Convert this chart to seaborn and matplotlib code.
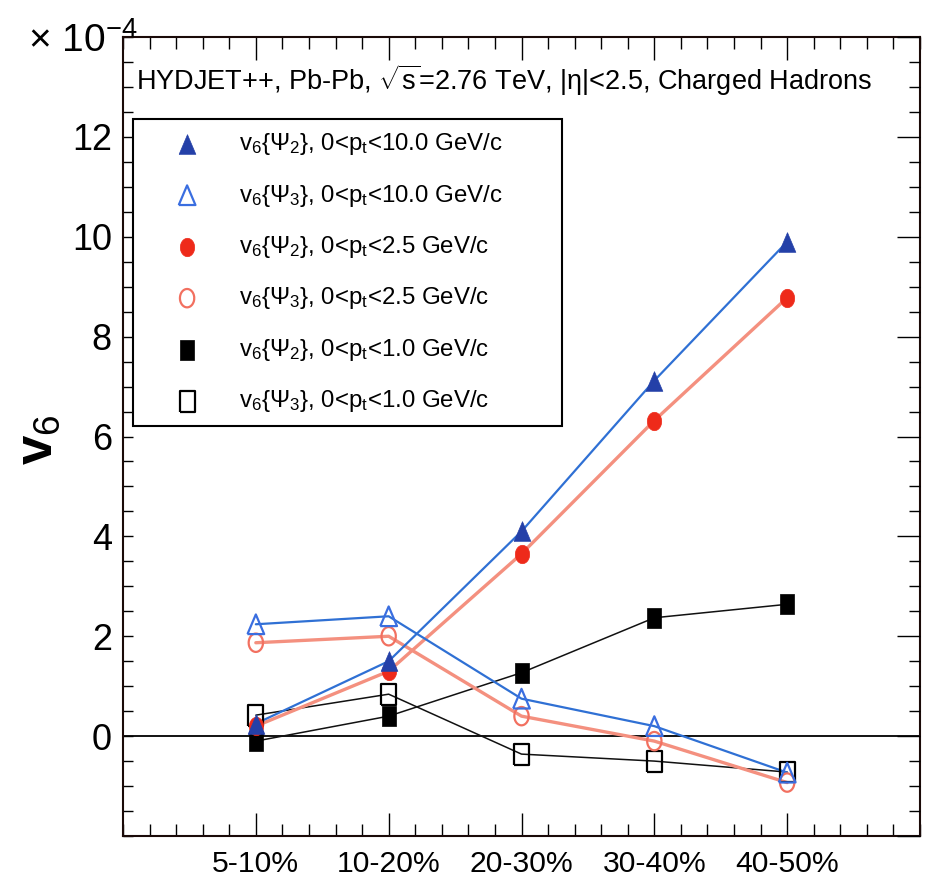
import numpy as np
import pandas as pd
import matplotlib
matplotlib.use("Agg")
import matplotlib.pyplot as plt
import seaborn as sns
from matplotlib import font_manager as fm
from matplotlib.ticker import MultipleLocator, FixedLocator

# ---------------- data ----------------
categories = ["5-10%", "10-20%", "20-30%", "30-40%", "40-50%"]
v6_psi2_pt10 = [0.25, 1.50, 4.10, 7.12, 9.90]
v6_psi3_pt10 = [2.24, 2.40, 0.75, 0.20, -0.73]
v6_psi2_pt25 = [0.20, 1.30, 3.65, 6.32, 8.78]
v6_psi3_pt25 = [1.87, 2.00, 0.40, -0.10, -0.93]
v6_psi2_pt1 = [-0.10, 0.40, 1.27, 2.37, 2.64]
v6_psi3_pt1 = [0.42, 0.84, -0.36, -0.50, -0.72]
ytick_values = [0, 2, 4, 6, 8, 10, 12]
labels = [
    r"v$_6${$\Psi_2$}, 0<p$_t$<10.0 GeV/c",
    r"v$_6${$\Psi_3$}, 0<p$_t$<10.0 GeV/c",
    r"v$_6${$\Psi_2$}, 0<p$_t$<2.5 GeV/c",
    r"v$_6${$\Psi_3$}, 0<p$_t$<2.5 GeV/c",
    r"v$_6${$\Psi_2$}, 0<p$_t$<1.0 GeV/c",
    r"v$_6${$\Psi_3$}, 0<p$_t$<1.0 GeV/c",
]
title_text = r"HYDJET++, Pb-Pb, $\sqrt{\mathregular{s}}$=2.76 TeV, |$\eta$|<2.5, Charged Hadrons"

# ---------------- style ----------------
sns.set_style("ticks")
avail = {f.name for f in fm.fontManager.ttflist}
NARROW = "Liberation Sans Narrow" if "Liberation Sans Narrow" in avail else "Liberation Sans"
plt.rcParams["font.family"] = [NARROW, "DejaVu Sans"]
plt.rcParams["mathtext.fontset"] = "custom"
plt.rcParams["mathtext.rm"] = NARROW
plt.rcParams["mathtext.it"] = NARROW + ":italic"
plt.rcParams["mathtext.bf"] = NARROW + ":bold"
plt.rcParams["mathtext.sf"] = NARROW
plt.rcParams["mathtext.default"] = "regular"
plt.rcParams["text.color"] = "black"
plt.rcParams["xtick.labelcolor"] = "black"
plt.rcParams["ytick.labelcolor"] = "black"

fig = plt.figure(figsize=(9.3, 8.88), dpi=100)
fig.patch.set_facecolor("white")
ax = fig.add_axes([123 / 930, 1 - 836 / 888, (920 - 123) / 930, (836 - 37) / 888])
ax.set_facecolor("white")

xpos = np.arange(len(categories))

# marker shapes (slightly tall, as in the reference)
tri = [(-0.85, -1.0), (0.85, -1.0), (0.0, 1.0), (-0.85, -1.0)]
sq = [(-0.72, -1.0), (0.72, -1.0), (0.72, 1.0), (-0.72, 1.0), (-0.72, -1.0)]
th = np.linspace(0, 2 * np.pi, 41)
ell = list(zip(0.78 * np.cos(th), np.sin(th)))

series = [
    # values, label, line color, lw, marker, size, face, edge, open, zorder
    (v6_psi2_pt10, labels[0], "#2f70d4", 1.6, tri, 200, "#2440a8", "#2440a8", False, 12),
    (v6_psi3_pt10, labels[1], "#2f70d4", 1.6, tri, 200, "none", "#3a6ee0", True, 11),
    (v6_psi2_pt25, labels[2], "#f4907f", 2.4, ell, 175, "#ee2a1a", "#ee2a1a", False, 10),
    (v6_psi3_pt25, labels[3], "#f4907f", 2.4, ell, 175, "none", "#f27060", True, 9),
    (v6_psi2_pt1, labels[4], "#111111", 1.1, sq, 225, "black", "black", False, 8),
    (v6_psi3_pt1, labels[5], "#111111", 1.1, sq, 225, "none", "black", True, 7),
]

ax.axhline(0, color="black", lw=1.3, zorder=1)

for vals, lab, lc, lw, mk, s, fc, ec, is_open, z in series:
    sns.lineplot(x=xpos, y=vals, ax=ax, color=lc, linewidth=lw, legend=False,
                 estimator=None, sort=False, zorder=2 + z / 100)
for vals, lab, lc, lw, mk, s, fc, ec, is_open, z in series:
    sns.scatterplot(x=xpos, y=vals, ax=ax, marker=mk, s=s, color=ec,
                    edgecolor=ec, linewidth=1.6 if is_open else 0.5,
                    label=lab, zorder=z)
    coll = ax.collections[-1]
    coll.set_facecolor(fc)
    coll.set_edgecolor(ec)

ax.set_xlim(-1, 5)
ax.set_ylim(-2, 14)
ax.xaxis.set_major_locator(FixedLocator(xpos))
ax.set_xticklabels(categories)
ax.xaxis.set_minor_locator(MultipleLocator(0.2))
ax.yaxis.set_major_locator(FixedLocator(ytick_values))
ax.yaxis.set_minor_locator(MultipleLocator(0.5))
ax.set_xlabel("")
ax.set_ylabel("")

for sp in ax.spines.values():
    sp.set_visible(True)
    sp.set_color("#1a0a08")
    sp.set_linewidth(1.5)

ax.tick_params(axis="x", which="both", direction="in", top=True, bottom=True,
               color="black", width=1.0, pad=10, labelcolor="black")
ax.tick_params(axis="x", which="major", length=16.5)
ax.tick_params(axis="x", which="minor", length=8.5)
ax.tick_params(axis="y", which="both", direction="in", left=True, right=False,
               length=7.5, width=1.0, color="black", pad=8, labelcolor="black")

ax2 = ax.twinx()
ax2.set_ylim(-2, 14)
ax2.yaxis.set_major_locator(MultipleLocator(2))
ax2.yaxis.set_minor_locator(MultipleLocator(0.5))
ax2.tick_params(axis="y", which="both", direction="in", right=True, labelright=False,
                color="black", width=1.0)
ax2.tick_params(axis="y", which="major", length=16.5)
ax2.tick_params(axis="y", which="minor", length=8)
for sp in ax2.spines.values():
    sp.set_visible(False)

renderer = fig.canvas.get_renderer()


def fit_size(txt, base, target_w):
    t = fig.text(0, 0, txt, fontsize=base)
    w = t.get_window_extent(renderer=renderer).width
    t.remove()
    return base * target_w / w


xsize = fit_size("10-20%", 20, 104)
ysize = fit_size("12", 20, 40)
ax.tick_params(axis="x", labelsize=xsize)
ax.tick_params(axis="y", labelsize=ysize)

# title inside frame
tsize = fit_size(title_text, 20, 737)
ax.text((136 - 123) / 797, (836 - 80) / 799, title_text, transform=ax.transAxes,
        fontsize=tsize, ha="left", va="center", color="black")

# multiplier
fig.text(28 / 930, 1 - 52 / 888, r"$\times$ 10$^{-4}$", fontsize=28,
         ha="left", va="baseline", color="black")

# y label
fig.text(38 / 930, 1 - 440 / 888, r"$\mathbf{v}_\mathregular{6}$", fontsize=38,
         rotation=90, ha="center", va="center", color="black",
         family=["Liberation Sans", "DejaVu Sans"])

# legend
lsize = fit_size(labels[0], 18, 264)
handles, labs = ax.get_legend_handles_labels()
leg = ax.legend(handles, labs, loc="upper left",
                bbox_to_anchor=((133 - 123) / 797, (836 - 425) / 799,
                                (562 - 133) / 797, (425 - 119) / 799),
                mode="expand", borderaxespad=0, fontsize=lsize,
                frameon=True, fancybox=False, framealpha=1, edgecolor="black",
                handlelength=3.5, handletextpad=0.4, labelspacing=1.06,
                borderpad=0.5)
leg.get_frame().set_linewidth(1.5)
leg.set_zorder(20)
for t in leg.get_texts():
    t.set_color("black")

fig.savefig("out.png", dpi=100)
